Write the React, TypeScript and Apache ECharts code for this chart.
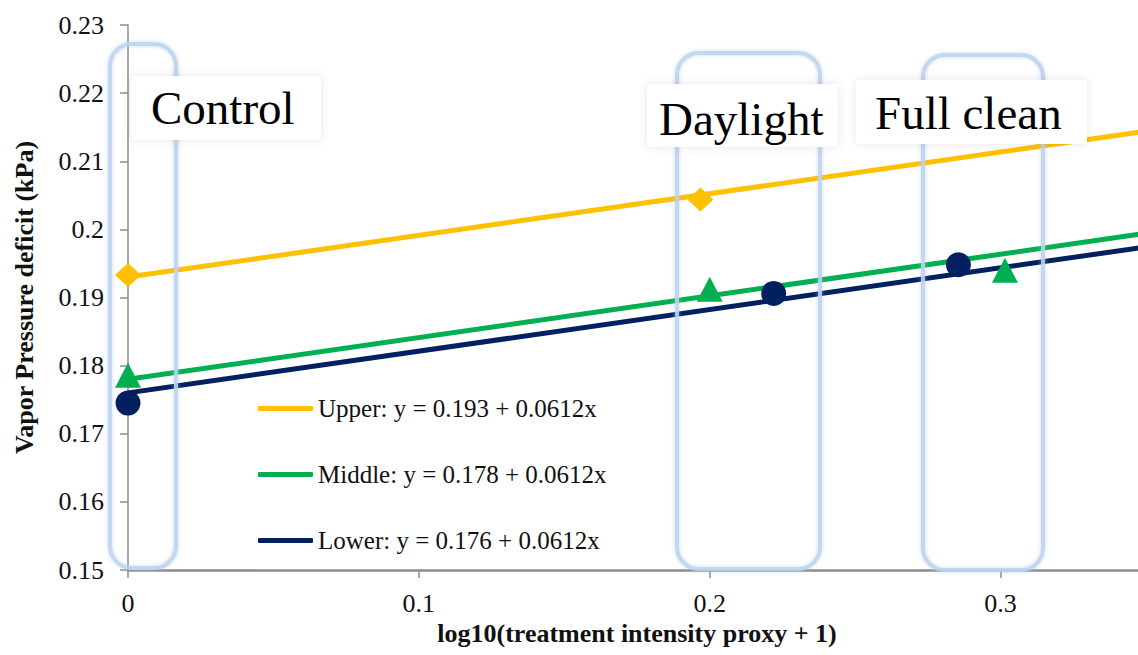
import React, { useEffect, useRef } from "react";
import * as echarts from "echarts";

// Fitted regression lines: y = intercept + slope * x
const groupNames = ["Upper", "Middle", "Lower"];
const intercepts = [0.193, 0.178, 0.176];
const slopes = [0.0612, 0.0612, 0.0612];
const groupColors = ["#FFC000", "#00B050", "#002060"];
const groupSymbols = ["diamond", "triangle", "circle"];

// Observed treatment means [log10(proxy + 1), VPD kPa]
const upperPoints = [
  [0, 0.1933],
  [0.1968, 0.2044],
];
const middlePoints = [
  [0, 0.1786],
  [0.2, 0.1912],
  [0.3015, 0.194],
];
const lowerPoints = [
  [0, 0.1745],
  [0.222, 0.1906],
  [0.2855, 0.1948],
];
const observed = [upperPoints, middlePoints, lowerPoints];

const xMin = 0;
const xMax = 0.35;
const yMin = 0.15;
const yMax = 0.23;

const treatmentLabels = ["Control", "Daylight", "Full clean"];

const SERIF = "Liberation Serif";

export default function App() {
  const ref = useRef<HTMLDivElement>(null);

  useEffect(() => {
    if (!ref.current) return;
    const chart = echarts.init(ref.current, null, { renderer: "svg" });

    const legendNames = groupNames.map(
      (g, i) => `${g}: y = ${intercepts[i]} + ${slopes[i]}x`
    );

    const lineSeries = groupNames.map((g, i) => ({
      name: legendNames[i],
      type: "line",
      data: [
        [xMin, intercepts[i] + slopes[i] * xMin],
        [xMax, intercepts[i] + slopes[i] * xMax],
      ],
      showSymbol: false,
      symbol: "none",
      lineStyle: { color: groupColors[i], width: 5 },
      itemStyle: { color: groupColors[i] },
      z: 2,
      silent: true,
    }));

    const pointSeries = groupNames.map((g, i) => ({
      name: g,
      type: "scatter",
      data: observed[i],
      symbol: groupSymbols[i],
      symbolSize: i === 0 ? [26, 24] : i === 1 ? [26, 25] : 25,
      itemStyle: { color: groupColors[i], opacity: 1 },
      z: 4,
    }));

    // Highlight frames around each treatment
    const frameStyle = {
      fill: "none",
      stroke: "rgba(190,211,238,0.85)",
      lineWidth: 4,
      shadowBlur: 4,
      shadowColor: "rgba(170,198,235,0.7)",
    };
    const frames = [
      { x: 110, y: 44, w: 66, h: 524 },
      { x: 677, y: 53, w: 143, h: 516 },
      { x: 923, y: 55, w: 120, h: 515 },
    ].map((f) => ({
      type: "rect",
      z: 10,
      shape: { x: f.x, y: f.y, width: f.w, height: f.h, r: 22 },
      style: frameStyle,
      silent: true,
    }));

    const boxes = [
      { x: 131, y: 76, w: 190, h: 64 },
      { x: 647, y: 84, w: 191, h: 63 },
      { x: 856, y: 80, w: 231, h: 64 },
    ].map((b) => ({
      type: "rect",
      z: 11,
      shape: { x: b.x, y: b.y, width: b.w, height: b.h },
      style: {
        fill: "#ffffff",
        shadowBlur: 8,
        shadowColor: "rgba(0,0,0,0.10)",
      },
      silent: true,
    }));

    const labelPos = [
      { x: 151, y: 108 },
      { x: 659, y: 119 },
      { x: 875, y: 113 },
    ];
    const labels = treatmentLabels.map((t, i) => ({
      type: "text",
      z: 12,
      x: labelPos[i].x,
      y: labelPos[i].y,
      style: {
        text: t,
        fontFamily: SERIF,
        fontSize: 47,
        fill: "#000",
        align: "left",
        verticalAlign: "middle",
      },
      silent: true,
    }));

    chart.setOption({
      animation: false,
      backgroundColor: "#ffffff",
      textStyle: { fontFamily: SERIF },
      grid: {
        left: 128,
        top: 25,
        right: 0,
        bottom: 85,
        containLabel: false,
        outerBoundsMode: "none",
      },
      legend: {
        data: legendNames,
        orient: "vertical",
        left: 253,
        top: 391,
        icon: "roundRect",
        itemWidth: 55,
        itemHeight: 5,
        itemGap: 41,
        selectedMode: false,
        textStyle: {
          fontFamily: SERIF,
          fontSize: 25,
          lineHeight: 25,
          color: "#111",
        },
      },
      xAxis: {
        type: "value",
        min: xMin,
        max: xMax,
        interval: 0.1,
        name: "log10(treatment intensity proxy + 1)",
        nameLocation: "middle",
        nameGap: 50,
        nameTextStyle: {
          fontFamily: SERIF,
          fontSize: 26,
          fontWeight: "bold",
          color: "#111",
        },
        axisLine: { lineStyle: { color: "#8c8c8c", width: 2.5 } },
        axisTick: { show: true, inside: false, length: 8, lineStyle: { color: "#8c8c8c", width: 1.5 } },
        axisLabel: {
          margin: 20,
          fontFamily: SERIF,
          fontSize: 26,
          color: "#111",
          formatter: (v: number) => {
            const r = Math.round(v * 10) / 10;
            return Math.abs(r - v) < 1e-9 ? String(r) : "";
          },
        },
        splitLine: { show: false },
      },
      yAxis: {
        type: "value",
        min: yMin,
        max: yMax,
        interval: 0.01,
        name: "Vapor Pressure deficit (kPa)",
        nameLocation: "middle",
        nameGap: 91,
        nameTextStyle: {
          fontFamily: SERIF,
          fontSize: 26,
          fontWeight: "bold",
          color: "#111",
        },
        axisLine: { show: true, lineStyle: { color: "#8c8c8c", width: 1.5 } },
        axisTick: { show: true, inside: false, length: 8, lineStyle: { color: "#8c8c8c", width: 1.5 } },
        axisLabel: {
          margin: 24,
          fontFamily: SERIF,
          fontSize: 26,
          color: "#111",
          formatter: (v: number) => String(Math.round(v * 100) / 100),
        },
        splitLine: { show: false },
      },
      series: [...lineSeries, ...pointSeries],
      graphic: [...frames, ...boxes, ...labels],
    });

    return () => chart.dispose();
  }, []);

  // The plot area runs slightly past the right edge of the window.
  return (
    <div
      ref={ref}
      style={{ position: "fixed", left: 0, top: 0, width: 1146, height: 655 }}
    />
  );
}
